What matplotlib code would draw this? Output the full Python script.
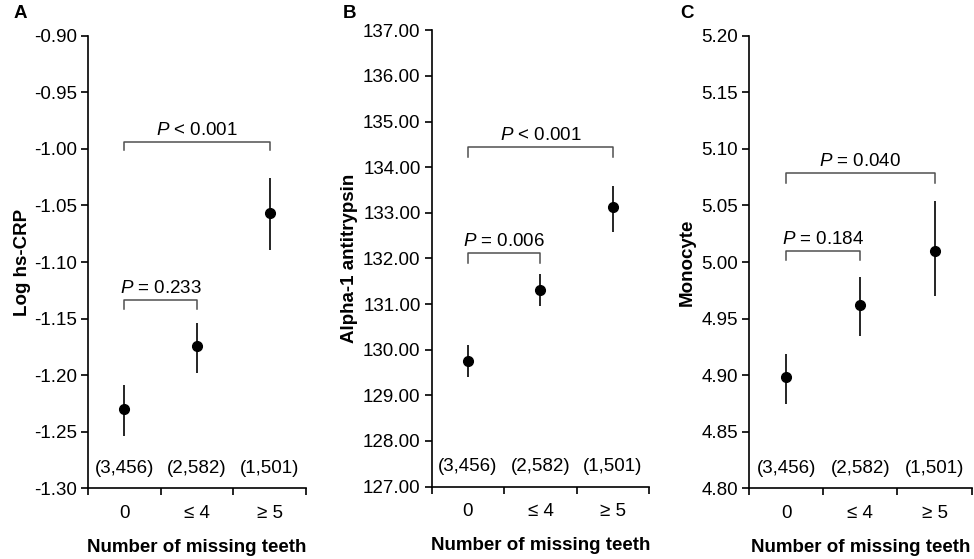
import matplotlib
matplotlib.use('Agg')
import matplotlib.pyplot as plt
import matplotlib.transforms as mtransforms

plt.rcParams['font.family'] = ['Liberation Sans', 'DejaVu Sans']
plt.rcParams['mathtext.fontset'] = 'custom'
plt.rcParams['mathtext.rm'] = 'Liberation Sans'
plt.rcParams['mathtext.it'] = 'Liberation Sans:italic'

# categories and group sizes
groups = ['0', '≤ 4', '≥ 5']
counts = ['(3,456)', '(2,582)', '(1,501)']

# panel A: log hs-CRP
crp_mean = [-1.2298, -1.1746, -1.0565]
crp_low = [-1.2534, -1.1983, -1.0896]
crp_high = [-1.2087, -1.1542, -1.0260]

# panel B: alpha-1 antitrypsin
aat_mean = [129.75, 131.31, 133.12]
aat_low = [129.40, 130.96, 132.57]
aat_high = [130.10, 131.67, 133.59]

# panel C: monocyte
mono_mean = [4.8986, 4.9622, 5.0094]
mono_low = [4.875, 4.9348, 4.970]
mono_high = [4.919, 4.9868, 5.0542]

# p-value brackets: (from group, to group, bracket y, foot y, text)
crp_brackets = [(0, 1, -1.1337, -1.1419, '$P$ = 0.233'),
                (0, 2, -0.9939, -1.0014, '$P$ < 0.001')]
aat_brackets = [(0, 1, 132.12, 131.90, '$P$ = 0.006'),
                (0, 2, 134.44, 134.23, '$P$ < 0.001')]
mono_brackets = [(0, 1, 5.0101, 5.0022, '$P$ = 0.184'),
                 (0, 2, 5.0787, 5.0702, '$P$ = 0.040')]

FS = 13.5


def draw_panel(ax, ylabel, label_x, mean, low, high, brackets, ylim, yticks):
    xs = [0.5, 1.5, 2.5]
    err = [[m - l for m, l in zip(mean, low)], [h - m for m, h in zip(mean, high)]]
    ax.errorbar(xs, mean, yerr=err, fmt='o', color='black', ms=7,
                elinewidth=1.2, capsize=0)

    for i, j, yb, yf, txt in brackets:
        ax.plot([xs[i], xs[i], xs[j], xs[j]], [yf, yb, yb, yf],
                color='#505050', lw=1.1)
        ax.annotate(txt, ((xs[i] + xs[j]) / 2, yb), xytext=(0, 2),
                    textcoords='offset points', ha='center', va='bottom',
                    fontsize=FS)

    trans = mtransforms.blended_transform_factory(ax.transData, ax.transAxes)
    for x, c in zip(xs, counts):
        ax.text(x, 0.045, c, transform=trans, ha='center', va='center',
                fontsize=FS)

    ax.set_xlim(0, 3)
    ax.set_ylim(*ylim)
    ax.set_yticks(yticks)
    ax.set_yticklabels(['{:.2f}'.format(v) for v in yticks])
    ax.set_xticks([0, 1, 2, 3])
    ax.set_xticklabels([])
    ax.set_xticks(xs, minor=True)
    ax.set_xticklabels(groups, minor=True)
    ax.tick_params(axis='x', which='minor', length=0, pad=12, labelsize=FS)
    ax.tick_params(axis='x', which='major', length=5, width=1.2)
    ax.tick_params(axis='y', length=5, width=1.2, pad=3, labelsize=FS)
    ax.spines['top'].set_visible(False)
    ax.spines['right'].set_visible(False)
    ax.spines['left'].set_linewidth(1.2)
    ax.spines['bottom'].set_linewidth(1.2)
    ax.set_ylabel(ylabel, fontsize=FS, fontweight='bold')
    ax.yaxis.set_label_coords(label_x, 0.5)
    ax.set_xlabel('Number of missing teeth', fontsize=13.5, fontweight='bold',
                  labelpad=12)


fig = plt.figure(figsize=(9.74, 5.59), dpi=100)

ax1 = fig.add_axes([0.0903, 0.1263, 0.2238, 0.8098])
draw_panel(ax1, 'Log hs-CRP', -0.26, crp_mean, crp_low, crp_high, crp_brackets,
           (-1.30, -0.90), [-1.30, -1.25, -1.20, -1.15, -1.10, -1.05, -1.00, -0.95, -0.90])

ax2 = fig.add_axes([0.4432, 0.1295, 0.2234, 0.8163])
draw_panel(ax2, 'Alpha-1 antitrypsin', -0.337, aat_mean, aat_low, aat_high, aat_brackets,
           (127, 137), list(range(127, 138)))

ax3 = fig.add_axes([0.769, 0.1263, 0.2286, 0.8098])
draw_panel(ax3, 'Monocyte', -0.241, mono_mean, mono_low, mono_high, mono_brackets,
           (4.80, 5.20), [4.80, 4.85, 4.90, 4.95, 5.00, 5.05, 5.10, 5.15, 5.20])

# panel letters
fig.text(20 / 974, 1 - 14 / 559, 'A', fontsize=FS, fontweight='bold', ha='center', va='center')
fig.text(350 / 974, 1 - 14 / 559, 'B', fontsize=FS, fontweight='bold', ha='center', va='center')
fig.text(687 / 974, 1 - 14 / 559, 'C', fontsize=FS, fontweight='bold', ha='center', va='center')

fig.savefig('out.png', dpi=100)
